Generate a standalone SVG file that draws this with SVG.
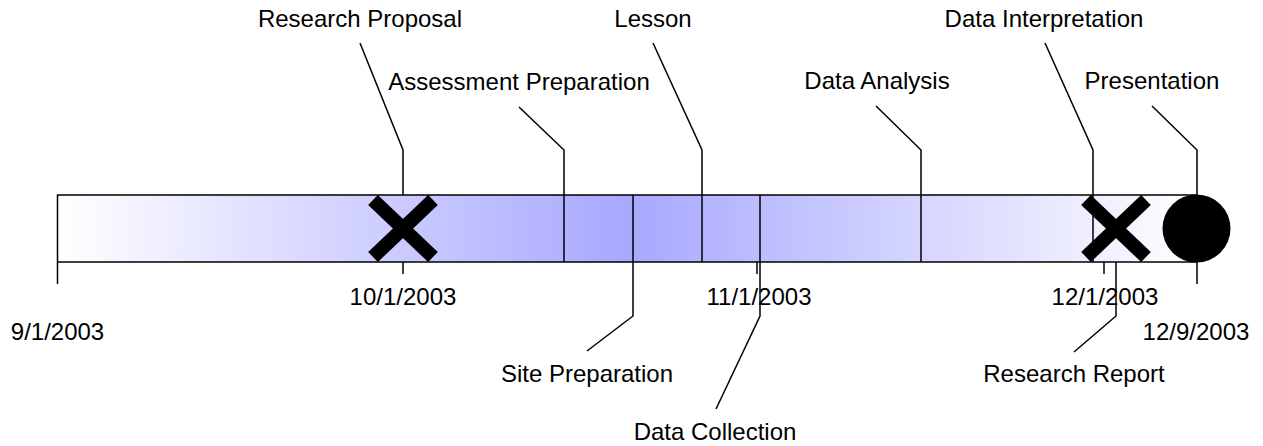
<svg xmlns="http://www.w3.org/2000/svg" width="1263" height="446" viewBox="0 0 1263 446">
<defs>
<linearGradient id="barGrad" gradientUnits="userSpaceOnUse" x1="57" y1="0" x2="1197" y2="0">
<stop offset="0" stop-color="#ffffff"/>
<stop offset="0.5" stop-color="#a8a8ff"/>
<stop offset="1" stop-color="#ffffff"/>
</linearGradient>
</defs>
<style>
text{font-family:"Liberation Sans",Arial,sans-serif;font-size:24px;fill:#000;text-anchor:middle}
.ln{fill:none;stroke:#000;stroke-width:1.5}
.seg{stroke:#000;stroke-width:1.5}
.x{stroke:#000;stroke-width:14;stroke-linecap:butt}
</style>
<rect width="1263" height="446" fill="#fff"/>
<g id="timeline-bar">
<rect x="57.5" y="195" width="1139.5" height="67" fill="url(#barGrad)" stroke="#000" stroke-width="1.5"/>
<line class="seg" x1="57.5" y1="262" x2="57.5" y2="284"/>
<line class="seg" x1="403" y1="262" x2="403" y2="274"/>
<line class="seg" x1="757" y1="262" x2="757" y2="274"/>
<line class="seg" x1="1104" y1="262" x2="1104" y2="274"/>
<line class="seg" x1="1197" y1="262" x2="1197" y2="284"/>
<text x="57.5" y="340">9/1/2003</text>
<text x="403" y="305">10/1/2003</text>
<text x="759" y="305">11/1/2003</text>
<text x="1105" y="305">12/1/2003</text>
<text x="1196" y="340">12/9/2003</text>
</g>
<g id="connectors">
<polyline class="ln" points="360,43 403,150 403,195"/>
<polyline class="ln" points="519,107 564,150 564,262"/>
<polyline class="ln" points="633,195 633,316 587,351"/>
<polyline class="ln" points="653,43 702,150 702,262"/>
<polyline class="ln" points="760,195 760,316 716,409"/>
<polyline class="ln" points="876,106 921,150 921,262"/>
<polyline class="ln" points="1045,43 1093,150 1093,262"/>
<polyline class="ln" points="1116,262 1116,316 1074,352"/>
<polyline class="ln" points="1152,106 1197,150 1197,195"/>
</g>
<g id="research-proposal">
<line class="x" x1="373" y1="200" x2="433" y2="257"/>
<line class="x" x1="433" y1="200" x2="373" y2="257"/>
<text x="360" y="27">Research Proposal</text>
</g>
<g id="assessment-preparation"><text x="519" y="90">Assessment Preparation</text></g>
<g id="site-preparation"><text x="587" y="382">Site Preparation</text></g>
<g id="lesson"><text x="653" y="27">Lesson</text></g>
<g id="data-collection"><text x="715" y="440">Data Collection</text></g>
<g id="data-analysis"><text x="877" y="89">Data Analysis</text></g>
<g id="data-interpretation"><text x="1044" y="27">Data Interpretation</text></g>
<g id="research-report">
<line class="x" x1="1086" y1="200" x2="1146" y2="257"/>
<line class="x" x1="1146" y1="200" x2="1086" y2="257"/>
<text x="1074" y="382">Research Report</text>
</g>
<g id="presentation">
<circle cx="1196.5" cy="228.5" r="34" fill="#000"/>
<text x="1152" y="89">Presentation</text>
</g>
</svg>
